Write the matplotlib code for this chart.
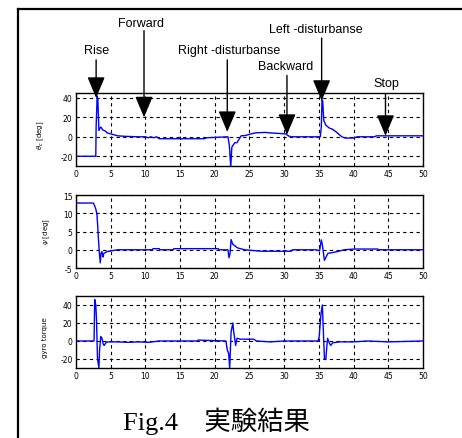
import matplotlib
matplotlib.use('Agg')
import matplotlib.pyplot as plt
from matplotlib.lines import Line2D

# theta_c [deg]
theta_t = [0, 2.85, 2.9, 3.05, 3.15, 3.3, 3.55, 3.7, 3.85, 4.2, 4.5, 5.0, 5.5, 6.0,
           7.0, 9.0, 10.0, 10.4, 10.8, 11.2, 11.6, 12.0, 18.5, 18.8, 21.9, 22.1,
           22.3, 22.45, 22.6, 22.9, 23.2, 23.5, 23.8, 24.4, 25.0, 25.8, 27.3, 28.0,
           30.2, 30.6, 31.0, 35.2, 35.35, 35.45, 35.55, 35.7, 36.0, 36.5, 36.9,
           37.5, 38.3, 38.8, 40.0, 40.5, 43.0, 43.3, 50.0]
theta_v = [-20, -20, 10, 42, 38, 6.5, 10, 9, 7, 6, 4, 3, 2, 1,
           0.5, 0, 0, -1, 0, -1, 0, -2, -2, -1, 0, -9,
           -31, -11, -9, -6, -6, -2.5, 1, 1.3, 2.5, 4, 4.5, 4,
           3, 1, 0, 0, 10, 38, 37, 17, 12, 9, 8,
           5, 0, -1.3, -1.3, 0, 0, 1, 1]

# psi [deg]
psi_t = [0, 2.5, 2.8, 3.0, 3.1, 3.2, 3.35, 3.5, 3.6, 3.75, 3.9, 4.0, 4.5, 6.0,
         11.0, 11.1, 12.0, 12.1, 14.0, 14.1, 20.5, 20.6, 21.9, 22.05, 22.2,
         22.35, 22.6, 23.3, 24.3, 26.7, 31.0, 31.2, 34.6, 35.1, 35.35, 35.5,
         35.8, 36.3, 37.7, 38.6, 40.1, 43.5, 43.6, 50.0]
psi_v = [12.8, 12.8, 11.5, 10, 7.4, 4, -0.5, -3.6, -1, -0.5, -2, -1, -0.5, 0,
         0, 0.3, 0.3, 0, 0, 0.3, 0.3, 0, 0, -2.2, -1,
         2.8, 1.5, 0.5, 0, -0.4, -0.4, 0, 0, -0.3, 2.7, 1.4,
         -2.9, -1, -0.5, 0, 0.2, 0.2, 0, 0]

# gyro torque
gyro_t = [0, 2.6, 2.7, 2.85, 2.95, 3.05, 3.1, 3.3, 3.4, 3.57, 3.75, 3.9, 4.05,
          4.3, 4.6, 5.0, 6.0, 7.5, 9.0, 10.5, 12.0, 17.5, 17.6, 21.6, 21.8,
          22.0, 22.15, 22.35, 22.6, 22.7, 23.0, 23.2, 23.7, 25.6, 26.0, 28.0,
          30.0, 34.9, 35.05, 35.3, 35.5, 35.7, 35.8, 36.0, 36.25, 36.5, 36.7,
          37.0, 38.0, 40.0, 42.0, 45.0, 50.0]
gyro_v = [0, 0, 46, 40, 25, -5, -20, -30, -10, 5, 3, -3, -5,
          -2, -1, -1, -1, -1.5, -1, -1.5, 0, 0, 1, 0, -10,
          -14, -30, 10, 20, 12, -5, 3, 2, 2, 0, -1,
          0, 0, 5, 30, 40, 0, -20, -20, 3, -2, -5,
          -2, -1, -1, 0, -1, 0]

x_ticks = [0, 5, 10, 15, 20, 25, 30, 35, 40, 45, 50]

# annotations on the top panel: label, text x, text y, arrow x, arrow start y, tip y
ann_labels = ['Rise', 'Forward', 'Right -disturbanse', 'Backward', 'Left -disturbanse', 'Stop']
ann_text_x = [3.0, 9.4, 22.1, 30.2, 34.5, 44.7]
ann_text_y = [89, 117, 89, 72.5, 111, 55]
ann_arrow_x = [2.9, 9.8, 21.8, 30.4, 35.4, 44.6]
ann_start_y = [79, 109, 79, 63, 101.5, 44.5]
ann_tip_y = [40, 20, 5, 2, 37, 1]

panels = [
    (theta_t, theta_v, (-30, 45), [-20, 0, 20, 40], r'$\theta_c$ [deg]', (-0.086, 0.44)),
    (psi_t, psi_v, (-5, 15), [-5, 0, 5, 10, 15], r'$\psi$ [deg]', (-0.069, 0.51)),
    (gyro_t, gyro_v, (-30, 50), [-20, 0, 20, 40], 'gyro torque', (-0.081, 0.43)),
]
rects = [
    [0.1645, 0.6196, 0.751, 0.1663],
    [0.1645, 0.3872, 0.751, 0.1663],
    [0.1645, 0.1595, 0.751, 0.1640],
]

fig = plt.figure(figsize=(4.62, 4.39), dpi=100)

axes = []
for (t, v, ylim, yt, ylab, lab_pos), rect in zip(panels, rects):
    ax = fig.add_axes(rect)
    ax.plot(t, v, color='#0000ff', lw=1.0)
    ax.set_xlim(0, 50)
    ax.set_ylim(*ylim)
    ax.set_xticks(x_ticks)
    ax.set_yticks(yt)
    ax.set_yticklabels([str(y) for y in yt])
    ax.grid(True, color='black', linestyle=(0, (3, 3)), linewidth=0.8)
    ax.tick_params(direction='in', length=2, width=0.6, labelsize=5.5, pad=2.5)
    for s in ax.spines.values():
        s.set_linewidth(1.0)
        s.set_color('black')
    ax.set_ylabel(ylab, fontsize=5)
    ax.yaxis.set_label_coords(*lab_pos)
    axes.append(ax)

top = axes[0]
for lab, tx, ty, axx, sy, tipy in zip(ann_labels, ann_text_x, ann_text_y,
                                      ann_arrow_x, ann_start_y, ann_tip_y):
    top.text(tx, ty, lab, ha='center', va='center', fontsize=9,
             family='Liberation Sans', clip_on=False)
    top.annotate('', xy=(axx, tipy), xytext=(axx, sy), annotation_clip=False,
                 arrowprops=dict(arrowstyle='-|>,head_length=1.0,head_width=0.42',
                                 mutation_scale=13, color='black', lw=1.0,
                                 shrinkA=0, shrinkB=0))

fig.text(0.469, 0.04, 'Fig.4\u3000実験結果', ha='center', va='center', fontsize=19,
         family=['Liberation Serif', 'Noto Sans CJK JP'])

# partial outer frame
fig.add_artist(Line2D([18 / 462, 1.0], [1 - 10 / 439, 1 - 10 / 439],
                      transform=fig.transFigure, color='black', lw=1.6))
fig.add_artist(Line2D([18 / 462, 18 / 462], [0.0, 1 - 10 / 439],
                      transform=fig.transFigure, color='black', lw=1.6))

fig.savefig('out.png', dpi=100)
